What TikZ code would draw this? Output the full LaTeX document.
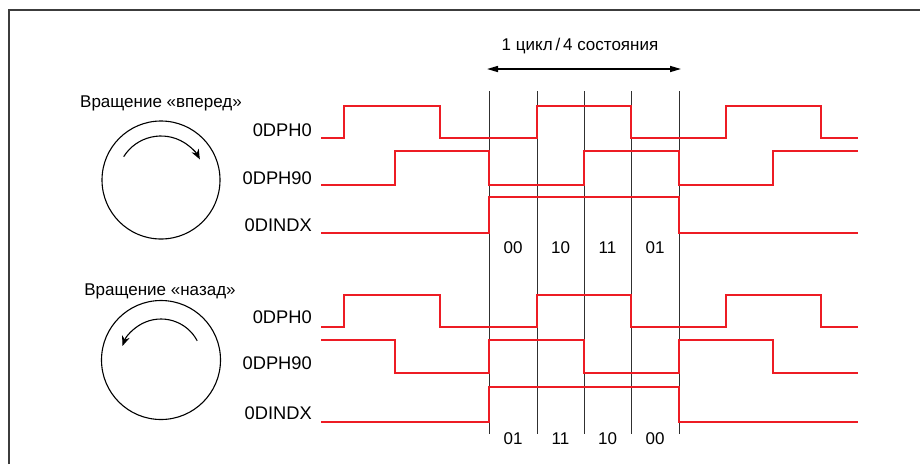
\documentclass[tikz,border=0pt]{standalone}
\usepackage{fontspec}
\setmainfont{Liberation Sans}
\usetikzlibrary{arrows.meta}
\definecolor{sigred}{RGB}{237,28,36}
\definecolor{frame}{RGB}{60,60,60}
\tikzset{
  sig/.style={draw=sigred,line width=2.6pt,line join=miter,line cap=butt},
  tick/.style={draw=frame!80!black,line width=1pt},
  lbl/.style={anchor=east,inner sep=0pt,font=\fontsize{18.3}{20}\selectfont},
  title/.style={inner sep=0pt,font=\fontsize{17}{20}\selectfont},
  state/.style={inner sep=0pt,font=\fontsize{17}{20}\selectfont},
  wheel/.style={draw=black,line width=1.1pt},
  rot/.style={draw=black,line width=1.1pt,-{Stealth[length=10pt,width=8pt]}}
}
\begin{document}
\begin{tikzpicture}[x=1pt,y=-1pt]
\useasboundingbox (0,0) rectangle (920,464);
% frame (top and left edges)
\draw[frame,line width=1.6pt] (9,464) -- (9,10) -- (920,10);

% title of cycle
\node[title] (cyc) at (580,46) {1 цикл\,/\,4 состояния};
\coordinate (cl) at (487,69);
\coordinate (cr) at (681,69);
\draw[line width=1.5pt,{Triangle[length=11pt,width=6pt]}-{Triangle[length=11pt,width=6pt]}] (cl) -- (cr);

% vertical lines
\foreach \x in {489,537,584,631,679}{
  \draw[tick] (\x,91) -- (\x,434);
}

% ----- forward rotation -----
\node[title] (fwd) at (161,103) {Вращение «вперед»};
\node[wheel,circle,minimum size=118pt,inner sep=0pt] (cf) at (161,180) {};
\draw[rot] ([shift={(-148:44)}]cf.center) arc[start angle=-148,end angle=-28,radius=44];

\node[lbl] (f0) at (312,130) {0DPH0};
\node[lbl] (f90) at (312,178) {0DPH90};
\node[lbl] (fi) at (312,225) {0DINDX};

\draw[sig] (321,138) -- (344,138) -- (344,106) -- (440,106) -- (440,138) -- (537,138) -- (537,106) -- (631,106) -- (631,138) -- (726,138) -- (726,106) -- (821,106) -- (821,138) -- (858,138);
\draw[sig] (321,185) -- (395,185) -- (395,151) -- (489,151) -- (489,185) -- (584,185) -- (584,151) -- (679,151) -- (679,185) -- (773,185) -- (773,151) -- (858,151);
\draw[sig] (321,233) -- (489,233) -- (489,197) -- (679,197) -- (679,233) -- (858,233);

\node[state] (s1) at (513,248) {00};
\node[state] (s2) at (560.5,248) {10};
\node[state] (s3) at (607.5,248) {11};
\node[state] (s4) at (655,248) {01};

% ----- backward rotation -----
\node[title] (bwd) at (160,291) {Вращение «назад»};
\node[wheel,circle,minimum size=119pt,inner sep=0pt] (cb) at (161,360) {};
\draw[rot] ([shift={(-28:41)}]cb.center) arc[start angle=-28,end angle=-160,radius=41];

\node[lbl] (b0) at (312,317) {0DPH0};
\node[lbl] (b90) at (312,363) {0DPH90};
\node[lbl] (bi) at (312,413) {0DINDX};

\draw[sig] (321,327) -- (344,327) -- (344,295) -- (440,295) -- (440,327) -- (537,327) -- (537,295) -- (631,295) -- (631,327) -- (726,327) -- (726,295) -- (821,295) -- (821,327) -- (858,327);
\draw[sig] (321,340) -- (395,340) -- (395,373) -- (489,373) -- (489,340) -- (584,340) -- (584,373) -- (679,373) -- (679,340) -- (773,340) -- (773,373) -- (858,373);
\draw[sig] (321,422) -- (489,422) -- (489,387) -- (679,387) -- (679,422) -- (858,422);

\node[state] (t1) at (513,439) {01};
\node[state] (t2) at (560.5,439) {11};
\node[state] (t3) at (607.5,439) {10};
\node[state] (t4) at (655,439) {00};
\end{tikzpicture}
\end{document}
